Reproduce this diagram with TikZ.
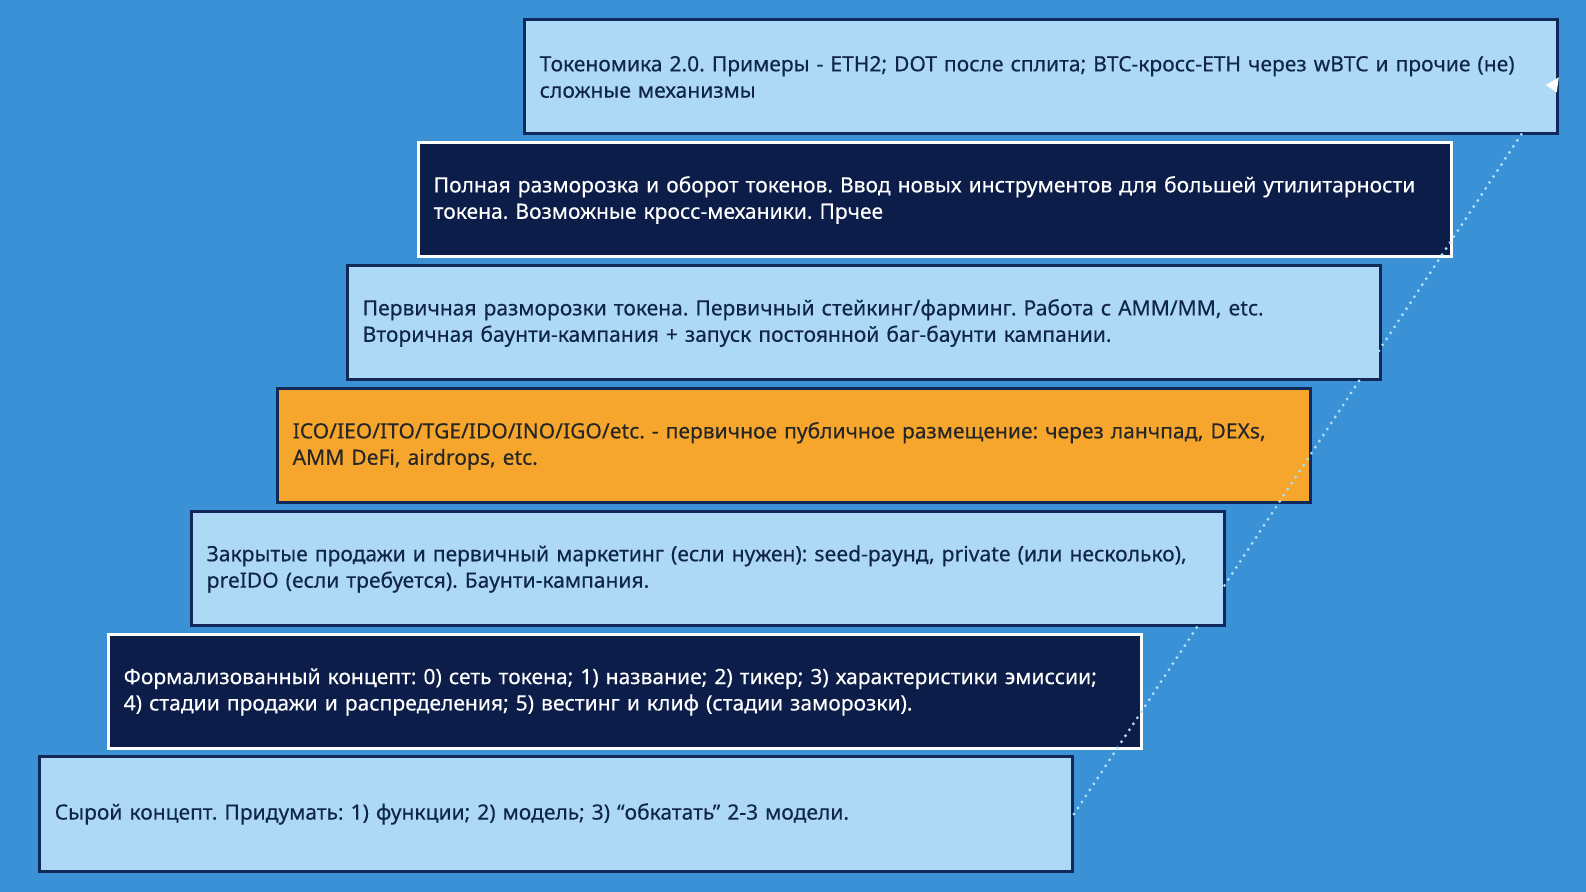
\documentclass[tikz,border=0pt]{standalone}
\usepackage{fontspec}
\setmainfont{Noto Sans}
\newfontfamily\stagefont{Noto Sans}[FakeBold=0.35]
\usetikzlibrary{arrows.meta}
\definecolor{bgblue}{HTML}{3A91D5}
\definecolor{lightbox}{HTML}{ADD8F6}
\definecolor{navybox}{HTML}{0C1D49}
\definecolor{navyline}{HTML}{10295A}
\definecolor{orangebox}{HTML}{F6A62C}
\definecolor{darktext}{HTML}{10254A}
\definecolor{dotblue}{HTML}{B0DEFA}

\begin{document}
\frenchspacing
\hfuzz=100pt
\begin{tikzpicture}[x=0.5pt,y=-0.5pt,
    stage/.style={anchor=west, minimum width=516.5pt, minimum height=57pt,
        text width=501.3pt, inner xsep=7.6pt, align=left, line width=1.5pt,
        font=\stagefont\fontsize{10.52}{13.2}\selectfont},
    lightstage/.style={stage, draw=navyline, fill=lightbox, text=darktext},
    darkstage/.style={stage, draw=white, fill=navybox, text=white},
    orangestage/.style={stage, draw=navyline, fill=orangebox, text=black!85}]

\fill[bgblue] (0,0) rectangle (1586,892);
\useasboundingbox (0,0) rectangle (1586,892);

\node[lightstage] (s1) at (38,814) {\mbox{Сырой концепт. Придумать: 1) функции; 2) модель; 3) “обкатать” 2-3 модели.}};

\node[darkstage] (s2) at (107,692) {\mbox{Формализованный концепт: 0) сеть токена; 1) название; 2) тикер; 3) характеристики эмиссии;}\\ \mbox{4) стадии продажи и распределения; 5) вестинг и клиф (стадии заморозки).}};

\node[lightstage] (s3) at (190,569) {\mbox{Закрытые продажи и первичный маркетинг (если нужен): seed-раунд, private (или несколько),}\\ \mbox{preIDO (если требуется). Баунти-кампания.}};

\node[orangestage] (s4) at (276,446) {\mbox{ICO/IEO/ITO/TGE/IDO/INO/IGO/etc. - первичное публичное размещение: через ланчпад, DEXs,}\\ \mbox{AMM DeFi, airdrops, etc.}};

\node[lightstage] (s5) at (346,323) {\mbox{Первичная разморозки токена. Первичный стейкинг/фарминг. Работа с AMM/MM, etc.}\\ \mbox{Вторичная баунти-кампания + запуск постоянной баг-баунти кампании.}};

\node[darkstage] (s6) at (417,200) {\mbox{Полная разморозка и оборот токенов. Ввод новых инструментов для большей утилитарности}\\ \mbox{токена. Возможные кросс-механики. Прчее}};

\node[lightstage] (s7) at (523,77) {\mbox{Токеномика 2.0. Примеры - ETH2; DOT после сплита; BTC-кросс-ETH через wBTC и прочие (не)}\\ \mbox{сложные механизмы}};

% dotted growth arrow
\draw[dotblue, line width=1.6pt, line cap=round, dash pattern=on 0pt off 3.6pt,
    -{Triangle[white, length=7pt, width=6pt]}] (s1.east) -- (s7.east);

\end{tikzpicture}
\end{document}
